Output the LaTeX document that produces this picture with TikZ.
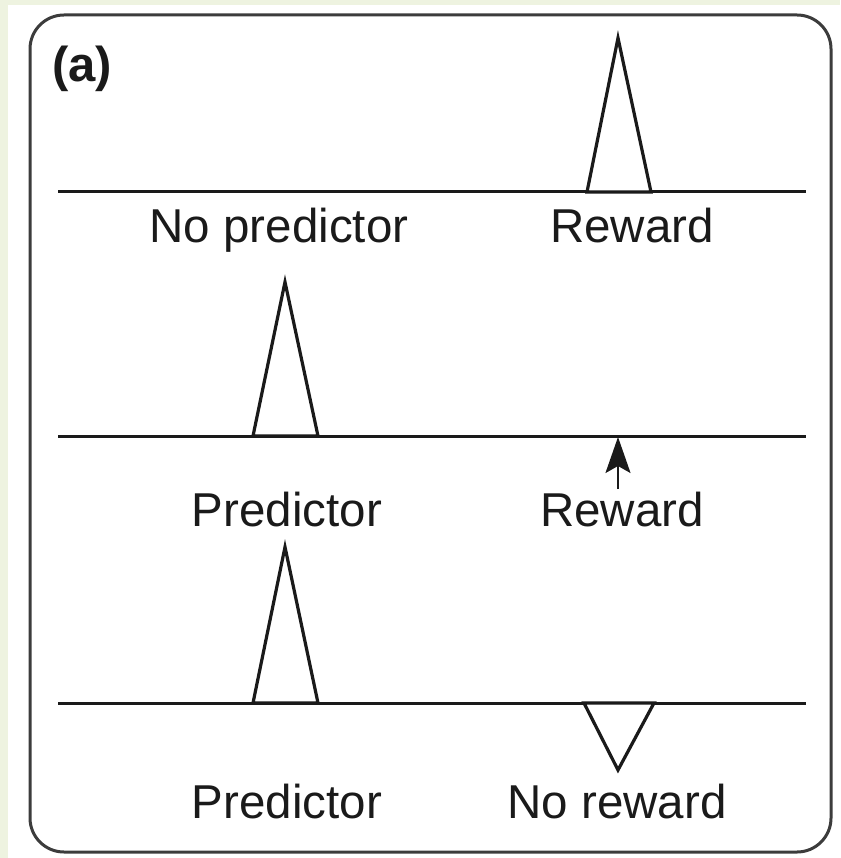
\documentclass[tikz,border=0pt]{standalone}
\usepackage{fontspec}
\setmainfont{Liberation Sans}
\usetikzlibrary{arrows.meta}
\definecolor{slidebg}{HTML}{EEF3E0}
\definecolor{ink}{HTML}{1A1A1A}
\begin{document}
\begin{tikzpicture}[x=1pt,y=-1pt,
  lbl/.style={font=\fontsize{47.5}{47.5}\selectfont, anchor=base, inner sep=0pt, text=ink},
  axis/.style={draw=ink, line width=3pt},
  spike/.style={draw=ink, line width=3.2pt, line join=miter, fill=white},
  frame/.style={draw=ink!85, line width=3pt, rounded corners=34pt}]
\useasboundingbox (0,0) rectangle (840,858);
\fill[slidebg] (0,0) rectangle (840,858);
\fill[white] (8,5) rectangle (840,858);
\draw[frame] (30,15) rectangle (831,852);
\node[anchor=base, inner sep=0pt, text=ink, font=\bfseries\fontsize{49}{49}\selectfont] (lab) at (82,82) {(a)};
% row 1
\draw[axis] (58,192) -- (806,192);
\draw[spike] (587,192) -- (618,38) -- (651,192) -- cycle;
\node[lbl] (np) at (279,243) {No predictor};
\node[lbl] (rw1) at (632,243) {Reward};
% row 2
\draw[axis] (58,436) -- (806,436);
\draw[spike] (253,436) -- (285,282) -- (318,436) -- cycle;
\coordinate (atail) at (618,489);
\coordinate (ahead) at (618,437);
\draw[ink, line width=2pt, -{Stealth[length=36pt,width=25pt,inset=7pt]}] (atail) -- (ahead);
\node[lbl] (p2) at (287,526) {Predictor};
\node[lbl] (rw2) at (622,526) {Reward};
% row 3
\draw[axis] (58,703) -- (806,703);
\draw[spike] (253,703) -- (285,547) -- (318,703) -- cycle;
\draw[spike] (584,703) -- (618,770) -- (654,703) -- cycle;
\node[lbl] (p3) at (287,818) {Predictor};
\node[lbl] (nr) at (617,818) {No reward};
\end{tikzpicture}
\end{document}
